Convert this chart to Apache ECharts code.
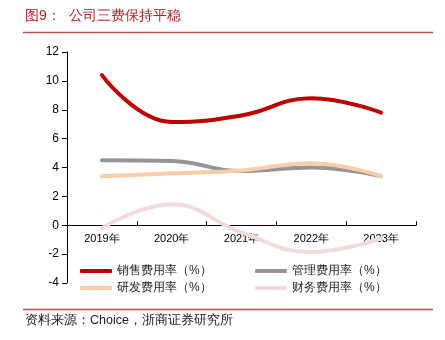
<!DOCTYPE html>
<html>
<head>
<meta charset="utf-8">
<script src="https://cdn.jsdelivr.net/npm/echarts@6/dist/echarts.min.js"></script>
<style>
  html, body { margin: 0; padding: 0; background: #fff; }
  #chart { width: 445px; height: 340px; }
</style>
</head>
<body>
<div id="chart"></div>
<script>
// Expense ratios, 2019–2023 (%)
const years = ['2019年', '2020年', '2021年', '2022年', '2023年'];
const salesRatio = [10.4, 7.15, 7.6, 8.8, 7.8];
const adminRatio = [4.5, 4.45, 3.75, 4.0, 3.4];
const rdRatio = [3.4, 3.6, 3.8, 4.3, 3.4];
const financeRatio = [-0.2, 1.45, -0.5, -1.85, -0.9];

const seriesNames = ['销售费用率（%）', '管理费用率（%）', '研发费用率（%）', '财务费用率（%）'];
const seriesData = [salesRatio, adminRatio, rdRatio, financeRatio];
const colors = ['#C00000', '#959595', '#FBCDA8', '#F2DCDB'];

const yMin = -4, yMax = 12;
const gridTop = 52, gridBottom = 57, chartH = 340;
// distance from the bottom of the plot up to the zero line, so the category axis sits on y = 0
const plotH = chartH - gridTop - gridBottom;
const zeroOffset = plotH * (0 - yMin) / (yMax - yMin);

const chart = echarts.init(document.getElementById('chart'));

const legendPos = [
  { left: 80, top: 265 },
  { left: 255, top: 265 },
  { left: 80, top: 282 },
  { left: 255, top: 282 }
];

const ruleColor = '#C0504D';

chart.setOption({
  animation: false,
  color: colors,
  grid: { left: 67, right: 29, top: gridTop, bottom: gridBottom },
  legend: seriesNames.map((name, i) => ({
    data: [name],
    left: legendPos[i].left,
    top: legendPos[i].top,
    padding: 0,
    icon: 'roundRect',
    itemWidth: 32,
    itemHeight: 4,
    textStyle: { fontSize: 12, color: '#222' }
  })),
  xAxis: {
    type: 'category',
    data: years,
    boundaryGap: true,
    offset: -zeroOffset,
    axisLine: { show: true, onZero: false, lineStyle: { color: '#000', width: 1 } },
    axisTick: { show: true, inside: true, length: 4, lineStyle: { color: '#000' } },
    axisLabel: { fontSize: 11, color: '#000', margin: 8 },
    splitLine: { show: false }
  },
  yAxis: {
    type: 'value',
    min: yMin,
    max: yMax,
    interval: 2,
    axisLine: { show: true, lineStyle: { color: '#000' } },
    axisTick: { show: true },
    axisLabel: { fontSize: 12, color: '#000' },
    splitLine: { show: false }
  },
  series: seriesNames.map((name, i) => ({
    name: name,
    type: 'line',
    data: seriesData[i],
    smooth: 0.45,
    showSymbol: false,
    symbol: 'none',
    lineStyle: { width: 4, color: colors[i], cap: 'round' }
  })),
  graphic: [
    {
      type: 'text',
      left: 25,
      top: 9,
      style: {
        text: '图9：  公司三费保持平稳',
        fontSize: 14,
        fill: '#B22222'
      }
    },
    {
      type: 'line',
      shape: { x1: 23, y1: 32.5, x2: 433, y2: 32.5 },
      style: { stroke: ruleColor, lineWidth: 1.5 }
    },
    {
      type: 'line',
      shape: { x1: 23, y1: 309.5, x2: 433, y2: 309.5 },
      style: { stroke: ruleColor, lineWidth: 1.5 }
    },
    {
      type: 'text',
      left: 25,
      top: 314,
      style: {
        text: '资料来源：Choice，浙商证券研究所',
        fontSize: 12.5,
        fill: '#222'
      }
    }
  ]
});
</script>
</body>
</html>
